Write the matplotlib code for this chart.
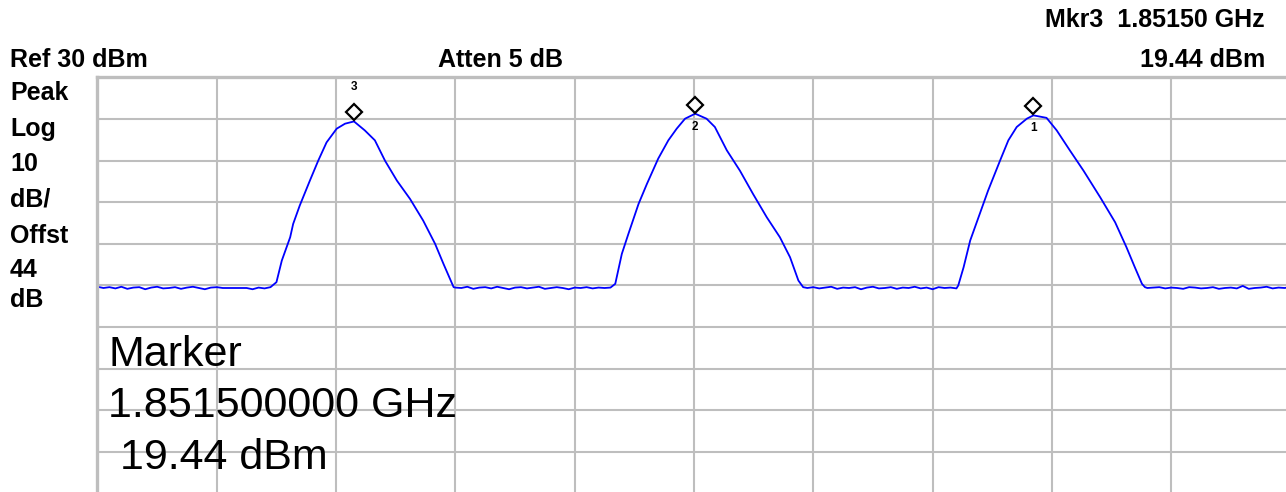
#!/usr/bin/env python3
"""Spectrum analyser screen: three carriers with peak markers."""

import matplotlib
matplotlib.use("Agg")
import matplotlib.pyplot as plt
from matplotlib.transforms import offset_copy

W, H = 1286, 492

# Sweep settings (MHz / dBm)
f_start, f_stop = 1847.2, 1867.2
ref_level, db_per_div = 30, 10

# noise floor between the carriers
floor_a_freq = [1847.2, 1847.3, 1847.4, 1847.5, 1847.6, 1847.7, 1847.8, 1847.9, 1848.0, 1848.1,
                1848.2, 1848.3, 1848.4, 1848.5, 1848.6, 1848.7, 1848.8, 1848.9, 1849.0, 1849.1,
                1849.2, 1849.3, 1849.4, 1849.5, 1849.6, 1849.7, 1849.8, 1849.9, 1850.0, 1850.1]
floor_a_dbm = [-20.3, -20.6, -20.4, -20.7, -20.3, -20.8, -20.5, -20.4, -20.9, -20.5,
               -20.3, -20.7, -20.6, -20.4, -20.8, -20.5, -20.3, -20.6, -20.9, -20.5,
               -20.4, -20.6, -20.6, -20.6, -20.6, -20.6, -20.9, -20.5, -20.7, -20.4]

peak3_freq = [1850.20, 1850.29, 1850.43, 1850.48, 1850.59, 1850.76, 1850.90, 1851.04, 1851.21, 1851.35,
              1851.50, 1851.68, 1851.85, 1852.02, 1852.22, 1852.44, 1852.66, 1852.86, 1853.00, 1853.12,
              1853.17]
peak3_dbm = [-19.2, -14.0, -8.4, -5.2, -0.8, 5.2, 10.0, 14.4, 17.7, 18.9,
             19.44, 17.3, 14.9, 10.0, 5.2, 0.8, -4.4, -10.0, -14.8, -18.8,
             -20.4]

floor_b_freq = [1853.2, 1853.3, 1853.4, 1853.5, 1853.6, 1853.7, 1853.8, 1853.9, 1854.0, 1854.1,
                1854.2, 1854.3, 1854.4, 1854.5, 1854.6, 1854.7, 1854.8, 1854.9, 1855.0, 1855.1,
                1855.2, 1855.3, 1855.4, 1855.5, 1855.6, 1855.7, 1855.8]
floor_b_dbm = [-20.5, -20.6, -20.3, -20.8, -20.5, -20.4, -20.7, -20.3, -20.6, -20.9,
               -20.5, -20.4, -20.7, -20.5, -20.3, -20.8, -20.6, -20.4, -20.6, -20.9,
               -20.5, -20.6, -20.4, -20.7, -20.5, -20.6, -20.5]

peak2_freq = [1855.88, 1855.99, 1856.10, 1856.27, 1856.41, 1856.60, 1856.77, 1856.91, 1857.05, 1857.22,
              1857.41, 1857.55, 1857.75, 1857.97, 1858.19, 1858.42, 1858.64, 1858.81, 1858.95, 1859.03]
peak2_dbm = [-19.6, -12.4, -7.6, -0.4, 4.4, 10.5, 14.9, 17.7, 20.1, 21.3,
             20.1, 18.1, 12.5, 7.6, 2.0, -3.6, -8.4, -13.2, -18.8, -20.4]

floor_c_freq = [1859.1, 1859.2, 1859.3, 1859.4, 1859.5, 1859.6, 1859.7, 1859.8, 1859.9, 1860.0,
                1860.1, 1860.2, 1860.3, 1860.4, 1860.5, 1860.6, 1860.7, 1860.8, 1860.9, 1861.0,
                1861.1, 1861.2, 1861.3, 1861.4, 1861.5, 1861.6]
floor_c_dbm = [-20.6, -20.4, -20.7, -20.5, -20.3, -20.8, -20.5, -20.6, -20.4, -20.9,
               -20.5, -20.3, -20.7, -20.6, -20.4, -20.8, -20.5, -20.6, -20.3, -20.7,
               -20.5, -20.9, -20.4, -20.6, -20.5, -20.7]

peak1_freq = [1861.63, 1861.72, 1861.83, 1861.99, 1862.13, 1862.33, 1862.47, 1862.61, 1862.78, 1862.89,
              1863.11, 1863.28, 1863.50, 1863.73, 1864.01, 1864.26, 1864.45, 1864.59, 1864.71, 1864.76]
peak1_dbm = [-20.0, -15.6, -9.2, -2.8, 2.8, 10.0, 14.9, 18.1, 20.1, 20.9,
             20.3, 17.3, 12.5, 7.6, 1.2, -4.8, -10.8, -15.6, -19.6, -20.4]

floor_d_freq = [1864.8, 1864.9, 1865.0, 1865.1, 1865.2, 1865.3, 1865.4, 1865.5, 1865.6, 1865.7,
                1865.8, 1865.9, 1866.0, 1866.1, 1866.2, 1866.3, 1866.4, 1866.5, 1866.6, 1866.7,
                1866.8, 1866.9, 1867.0, 1867.1, 1867.2]
floor_d_dbm = [-20.6, -20.5, -20.4, -20.7, -20.5, -20.6, -20.8, -20.4, -20.5, -20.7,
               -20.6, -20.4, -20.8, -20.6, -20.5, -20.7, -20.1, -20.8, -20.6, -20.5,
               -20.3, -20.7, -20.5, -20.6, -20.4]

marker_ids = ["1", "2", "3"]
marker_freq = [1862.89, 1857.22, 1851.50]
marker_dbm = [20.9, 21.3, 19.44]

side_labels = ["Peak", "Log", "10", "dB/", "Offst", "44", "dB"]

trace_freq = (floor_a_freq + peak3_freq + floor_b_freq + peak2_freq
              + floor_c_freq + peak1_freq + floor_d_freq)
trace_dbm = (floor_a_dbm + peak3_dbm + floor_b_dbm + peak2_dbm
             + floor_c_dbm + peak1_dbm + floor_d_dbm)

grid_grey = "#bebebe"
plt.rcParams["font.family"] = ["Liberation Sans", "DejaVu Sans"]

fig = plt.figure(figsize=(W / 100, H / 100), dpi=100)
ax = fig.add_axes([97.5 / W, 1 - 493.5 / H, 1193 / W, 416 / H])

ax.set_xlim(f_start, f_stop)
ax.set_ylim(ref_level - 10 * db_per_div, ref_level)
ax.set_xticks([f_start + 2 * k for k in range(11)])
ax.set_yticks([ref_level - db_per_div * k for k in range(11)])
ax.tick_params(length=0, labelbottom=False, labelleft=False)
ax.grid(True, color=grid_grey, linewidth=1.5)
ax.set_axisbelow(True)
for side in ("right", "bottom"):
    ax.spines[side].set_visible(False)
for side in ("left", "top"):
    ax.spines[side].set_color(grid_grey)
    ax.spines[side].set_linewidth(2.4)

ax.plot(trace_freq, trace_dbm, color="#0000ff", linewidth=1.3)

# diamonds sit a few pixels above each peak
above = offset_copy(ax.transData, fig=fig, x=0, y=9, units="dots")
ax.plot(marker_freq, marker_dbm, "D", transform=above, markersize=8.5,
        markerfacecolor="white", markeredgecolor="black", markeredgewidth=1.6,
        clip_on=False)
for mid, f, lvl in zip(marker_ids, marker_freq, marker_dbm):
    dy = 34 if mid == "3" else -13
    ax.annotate(mid, (f, lvl), xytext=(0, dy), textcoords="offset pixels",
                ha="center", va="center", fontsize=8.5, fontweight="bold",
                annotation_clip=False)

hdr = dict(fontsize=18, fontweight="bold", va="baseline")
fig.text(1265 / W, 1 - 27 / H, "Mkr3  1.85150 GHz", ha="right", **hdr)
fig.text(10 / W, 1 - 67 / H, "Ref 30 dBm", ha="left", **hdr)
fig.text(438 / W, 1 - 67 / H, "Atten 5 dB", ha="left", **hdr)
fig.text(1265 / W, 1 - 67 / H, "19.44 dBm", ha="right", **hdr)
for lab, base in zip(side_labels, [100, 136, 171, 207, 243, 277, 307]):
    fig.text(10 / W, 1 - base / H, lab, ha="left", **hdr)

big = dict(fontsize=31, va="baseline", ha="left")
fig.text(108 / W, 1 - 366 / H, "Marker", **big)
fig.text(108 / W, 1 - 417 / H, "1.851500000 GHz", **big)
fig.text(108 / W, 1 - 469 / H, " 19.44 dBm", **big)

fig.savefig("out.png", dpi=100)
